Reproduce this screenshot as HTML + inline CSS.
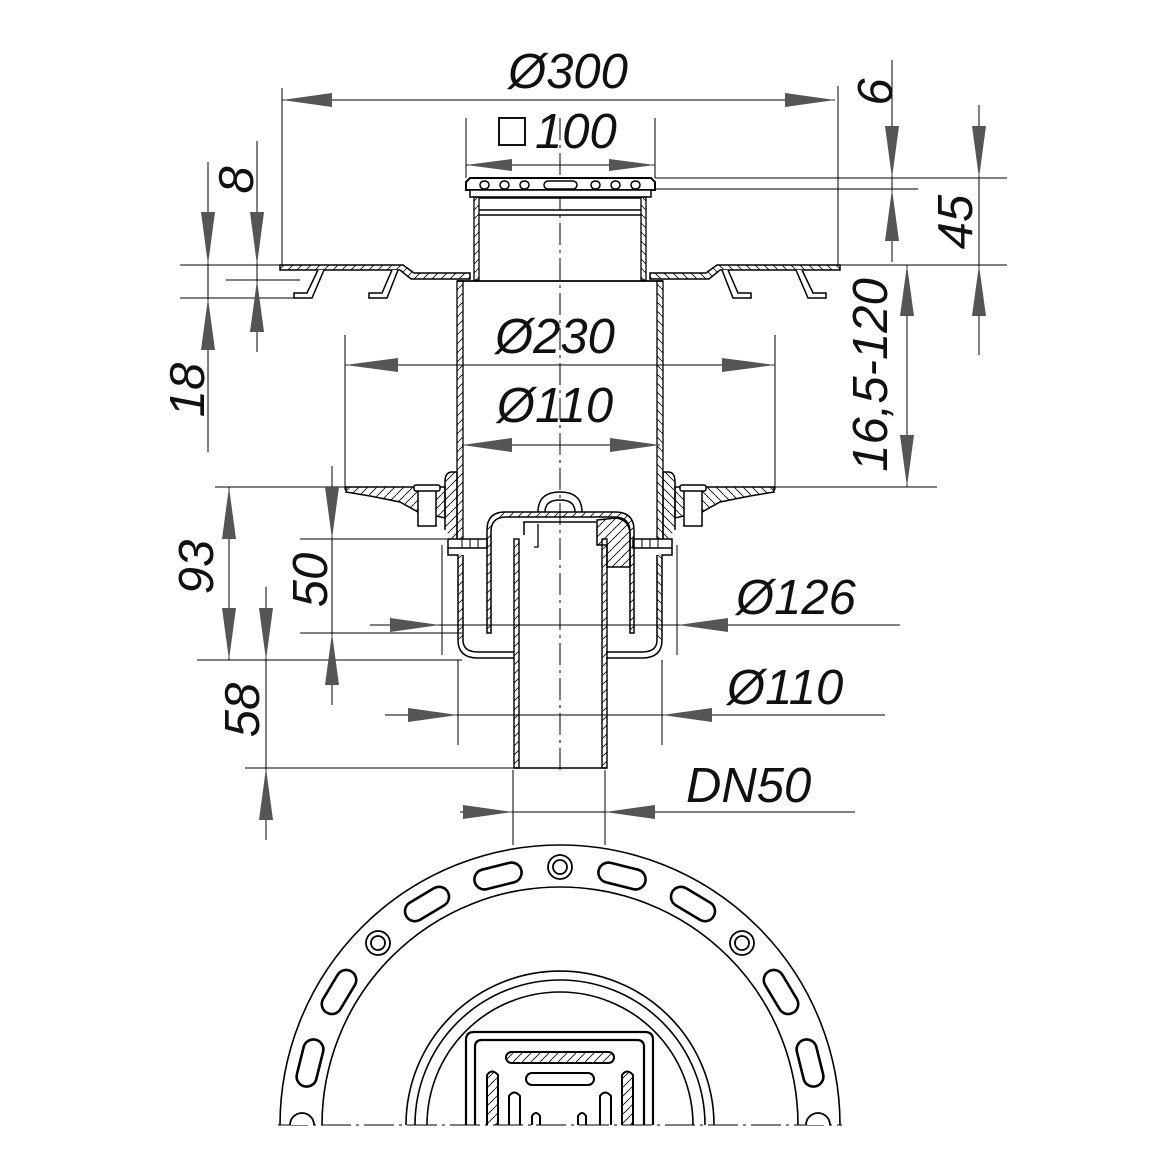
<!DOCTYPE html>
<html><head><meta charset="utf-8"><style>
html,body{margin:0;padding:0;background:#fff;}
svg{display:block;}
text{font-family:"Liberation Sans",sans-serif;font-style:italic;font-size:49px;fill:#111;}
</style></head><body>
<svg width="1175" height="1175" viewBox="0 0 1175 1175" xmlns="http://www.w3.org/2000/svg">
<defs>
<pattern id="h" patternUnits="userSpaceOnUse" width="9" height="9"><path d="M0,9 L9,0" stroke="#000" stroke-width="0.8"/></pattern>
<g id="halfbody">
  <path d="M280,265 L403,265 L414,273 L470,273 L470,279 L411,279 L400,270 L280,270 Z" fill="url(#h)" stroke="#000" stroke-width="1.5"/>
  <path d="M318,270 L307,293 L294,293 L294,298 L312,298 L324,270" fill="#fff" stroke="#000" stroke-width="1.5"/>
  <path d="M392,270 L382,293 L369,293 L369,298 L387,298 L398,270" fill="#fff" stroke="#000" stroke-width="1.5"/>
  <rect x="474" y="197" width="5" height="83" fill="url(#h)" stroke="#000" stroke-width="1.3"/>
  <line x1="479" y1="198" x2="560" y2="198" stroke="#000" stroke-width="1.5"/>
  <line x1="479" y1="210" x2="560" y2="210" stroke="#000" stroke-width="1.5"/>
  <line x1="479" y1="215" x2="560" y2="215" stroke="#000" stroke-width="1.5"/>
  <line x1="457" y1="281" x2="560" y2="281" stroke="#000" stroke-width="1.8"/>
  <rect x="457" y="281" width="6" height="264" fill="url(#h)" stroke="#000" stroke-width="1.3"/>
  <path d="M346,487 L445,487 L445,518 L418,512 L400,502 L370,496 L346,492 Z" fill="url(#h)" stroke="#000" stroke-width="1.5"/>
  <rect x="418" y="490" width="18" height="36" fill="#fff" stroke="#000" stroke-width="1.5"/>
  <rect x="414" y="485" width="26" height="6" rx="2" fill="#fff" stroke="#000" stroke-width="1.5"/>
  <path d="M445,530 L445,482 Q445,472 452,472 L457,472 L457,545" fill="url(#h)" stroke="#000" stroke-width="1.5"/>
  <rect x="448" y="539" width="39" height="9" fill="#fff" stroke="#000" stroke-width="1.5"/>
  <line x1="462" y1="539" x2="462" y2="548" stroke="#000"/><line x1="470" y1="539" x2="470" y2="548" stroke="#000"/><line x1="478" y1="539" x2="478" y2="548" stroke="#000"/>
  <path d="M448,548 L448,555 L458,555 L458,640 Q458,658 478,658 L514,658" fill="none" stroke="#000" stroke-width="1.5"/>
  <path d="M463,555 L463,640 Q463,652 478,652 L514,652" fill="none" stroke="#000" stroke-width="1.5"/>
  <rect x="458" y="555" width="5" height="85" fill="url(#h)"/>
</g>
</defs>

<line x1="560" y1="118" x2="560" y2="775" stroke="#000" stroke-width="1" stroke-dasharray="22,5,3,5"/>

<path d="M466,190 L466,182 L470,178 L651,178 L655,182 L655,190 Z" fill="#fff" stroke="#000" stroke-width="2"/>
<g fill="#fff" stroke="#000" stroke-width="1.5">
<rect x="480" y="181" width="9" height="8" rx="4"/><rect x="500" y="181" width="9" height="8" rx="4"/><rect x="520" y="181" width="9" height="8" rx="4"/>
<rect x="544" y="181" width="33" height="8" rx="4"/>
<rect x="591" y="181" width="9" height="8" rx="4"/><rect x="611" y="181" width="9" height="8" rx="4"/><rect x="631" y="181" width="9" height="8" rx="4"/>
<rect x="470" y="190" width="181" height="7" fill="#fff"/>
</g>

<use href="#halfbody"/>
<use href="#halfbody" transform="translate(1120,0) scale(-1,1)"/>

<path d="M487,633 L487,530 Q487,512 505,512 L615,512 Q634,512 634,530 L634,633 L630,633 L630,532 Q630,517 614,517 L506,517 Q491,517 491,532 L491,633 Z" fill="url(#h)" stroke="#000" stroke-width="1.5"/>
<path d="M597,520 L616,518 Q630,520 630,535 L630,567 L607,567 L607,545 L597,545 Z" fill="url(#h)" stroke="#000" stroke-width="1.5"/>
<path d="M538,512 Q538,492 560,492 Q582,492 582,512 M545,512 Q545,500 560,500 Q575,500 575,512" fill="none" stroke="#000" stroke-width="1.5"/>
<path d="M524,535 L524,522 L596,522" fill="none" stroke="#000" stroke-width="1.5"/>
<path d="M538,524 L538,547 L534,547" fill="none" stroke="#000" stroke-width="1.3"/>
<rect x="514" y="539" width="5" height="229" fill="url(#h)" stroke="#000" stroke-width="1.4"/>
<rect x="602" y="539" width="5" height="229" fill="url(#h)" stroke="#000" stroke-width="1.4"/>
<line x1="514" y1="768" x2="607" y2="768" stroke="#000" stroke-width="1.5"/>

<g stroke="#000" stroke-width="1" fill="none">
<line x1="282" y1="100" x2="835" y2="100"/><line x1="282" y1="88" x2="282" y2="265"/><line x1="838" y1="86" x2="838" y2="265"/>
<line x1="466" y1="165" x2="655" y2="165"/><line x1="466" y1="118" x2="466" y2="178"/><line x1="655" y1="118" x2="655" y2="178"/>
<line x1="892" y1="60" x2="892" y2="262"/><line x1="655" y1="178" x2="1007" y2="178"/><line x1="655" y1="189" x2="918" y2="189"/>
<line x1="979" y1="105" x2="979" y2="355"/><line x1="838" y1="265" x2="1007" y2="265"/>
<line x1="907" y1="265" x2="907" y2="487"/><line x1="770" y1="487" x2="937" y2="487"/>
<line x1="257" y1="141" x2="257" y2="352"/><line x1="208" y1="162" x2="208" y2="452"/>
<line x1="180" y1="265" x2="282" y2="265"/><line x1="226" y1="280" x2="300" y2="280"/><line x1="180" y1="298" x2="310" y2="298"/>
<line x1="345" y1="365" x2="775" y2="365"/><line x1="345" y1="335" x2="345" y2="490"/><line x1="775" y1="335" x2="775" y2="490"/>
<line x1="462" y1="445" x2="660" y2="445"/>
<line x1="215" y1="487" x2="346" y2="487"/><line x1="229" y1="487" x2="229" y2="660"/>
<line x1="332" y1="466" x2="332" y2="705"/><line x1="300" y1="539" x2="447" y2="539"/><line x1="300" y1="633" x2="462" y2="633"/>
<line x1="266" y1="587" x2="266" y2="840"/><line x1="197" y1="660" x2="462" y2="660"/><line x1="245" y1="768" x2="514" y2="768"/>
<line x1="370" y1="625" x2="900" y2="625"/><line x1="442" y1="545" x2="442" y2="655"/><line x1="677" y1="545" x2="677" y2="655"/>
<line x1="385" y1="715" x2="885" y2="715"/><line x1="458" y1="660" x2="458" y2="745"/><line x1="662" y1="660" x2="662" y2="745"/>
<line x1="460" y1="812" x2="855" y2="812"/><line x1="513" y1="770" x2="513" y2="845"/><line x1="605" y1="770" x2="605" y2="845"/>
</g>

<g fill="#555">
<polygon points="282,100 332,93 332,107"/><polygon points="835,100 785,93 785,107"/>
<polygon points="466,165 512,159 512,171"/><polygon points="655,165 609,159 609,171"/>
<polygon points="345,365 398,358 398,372"/><polygon points="775,365 722,358 722,372"/>
<polygon points="462,445 512,438 512,452"/><polygon points="660,445 610,438 610,452"/>
<polygon points="440,625 390,618 390,632"/><polygon points="678,625 728,618 728,632"/>
<polygon points="458,715 408,708 408,722"/><polygon points="662,715 712,708 712,722"/>
<polygon points="513,812 463,805 463,819"/><polygon points="605,812 655,805 655,819"/>
<polygon points="892,178 885,126 899,126"/><polygon points="892,189 885,241 899,241"/>
<polygon points="979,178 972,126 986,126"/><polygon points="979,265 972,316 986,316"/>
<polygon points="907,265 900,316 914,316"/><polygon points="907,487 900,435 914,435"/>
<polygon points="257,265 250,212 264,212"/><polygon points="257,280 250,332 264,332"/>
<polygon points="208,265 201,212 215,212"/><polygon points="208,298 201,350 215,350"/>
<polygon points="229,487 222,539 236,539"/><polygon points="229,660 222,608 236,608"/>
<polygon points="332,539 325,487 339,487"/><polygon points="332,633 325,685 339,685"/>
<polygon points="266,660 259,608 273,608"/><polygon points="266,768 259,820 273,820"/>
</g>

<text x="568" y="88" text-anchor="middle">Ø300</text>
<rect x="499" y="118" width="26" height="27" fill="none" stroke="#111" stroke-width="2"/>
<text x="535" y="148">100</text>
<text x="555" y="353" text-anchor="middle">Ø230</text>
<text x="555" y="422" text-anchor="middle">Ø110</text>
<text x="736" y="614">Ø126</text>
<text x="727" y="704">Ø110</text>
<text x="686" y="802">DN50</text>
<text transform="translate(892,92) rotate(-90)" text-anchor="middle">6</text>
<text transform="translate(972,222) rotate(-90)" text-anchor="middle">45</text>
<text transform="translate(887,375) rotate(-90)" text-anchor="middle">16,5-120</text>
<text transform="translate(253,180) rotate(-90)" text-anchor="middle">8</text>
<text transform="translate(204,390) rotate(-90)" text-anchor="middle">18</text>
<text transform="translate(213,567) rotate(-90)" text-anchor="middle">93</text>
<text transform="translate(327,580) rotate(-90)" text-anchor="middle">50</text>
<text transform="translate(259,710) rotate(-90)" text-anchor="middle">58</text>

<g fill="none" stroke="#000" stroke-width="1.6">
<path d="M280,1125 A280,280 0 0 1 840,1125"/>
<path d="M322,1125 A238,238 0 0 1 798,1125"/>
<path d="M406,1125 A154,154 0 0 1 714,1125"/>
<path d="M415,1125 A145,145 0 0 1 705,1125"/>
<path d="M427,1125 A133,133 0 0 1 693,1125"/>
<path d="M466,1125 L466,1040 Q466,1032 474,1032 L645,1032 Q653,1032 653,1040 L653,1125" stroke-width="2.2"/>
<path d="M475,1125 L475,1047 Q475,1040 482,1040 L637,1040 Q644,1040 644,1047 L644,1125" stroke-width="2.2"/>
<rect x="506" y="1052" width="108" height="11" rx="5.5" stroke-width="2" fill="url(#h)"/>
<rect x="526" y="1073" width="68" height="12" rx="6" stroke-width="2"/>
<path d="M487,1125 L487,1075 Q492,1068 498,1075 L498,1125" stroke-width="2" fill="url(#h)"/>
<path d="M622,1125 L622,1075 Q627,1068 633,1075 L633,1125" stroke-width="2" fill="url(#h)"/>
<path d="M509,1125 L509,1096 Q514,1089 520,1096 L520,1125" stroke-width="2"/>
<path d="M600,1125 L600,1096 Q605,1089 611,1096 L611,1125" stroke-width="2"/>
<path d="M532,1125 L532,1116 Q536,1110 540,1116 L540,1125" stroke-width="2"/>
<path d="M578,1125 L578,1116 Q582,1110 586,1116 L586,1125" stroke-width="2"/>
</g>
<line x1="278" y1="1125" x2="842" y2="1125" stroke="#000" stroke-width="1" stroke-dasharray="30,5,3,5"/>
<g fill="#fff" stroke="#000" stroke-width="2.6">
<rect x="-24" y="-10" width="48" height="20" rx="10" transform="translate(622,876) rotate(14)"/>
<rect x="-24" y="-10" width="48" height="20" rx="10" transform="translate(498,876) rotate(-14)"/>
<rect x="-24" y="-10" width="48" height="20" rx="10" transform="translate(693,904) rotate(31)"/>
<rect x="-24" y="-10" width="48" height="20" rx="10" transform="translate(427,904) rotate(-31)"/>
<rect x="-24" y="-10" width="48" height="20" rx="10" transform="translate(781,992) rotate(59)"/>
<rect x="-24" y="-10" width="48" height="20" rx="10" transform="translate(339,992) rotate(-59)"/>
<rect x="-24" y="-10" width="48" height="20" rx="10" transform="translate(810,1063) rotate(76)"/>
<rect x="-24" y="-10" width="48" height="20" rx="10" transform="translate(310,1063) rotate(-76)"/>
</g>
<g fill="#fff" stroke="#000" stroke-width="1.8">
<circle cx="560" cy="867" r="12"/><circle cx="560" cy="867" r="7"/>
<circle cx="378" cy="943" r="12"/><circle cx="378" cy="943" r="7"/>
<circle cx="742" cy="943" r="12"/><circle cx="742" cy="943" r="7"/>
<path d="M290,1125 A12,12 0 0 1 314,1125"/><path d="M806,1125 A12,12 0 0 1 830,1125"/>
</g>
</svg>
</body></html>
